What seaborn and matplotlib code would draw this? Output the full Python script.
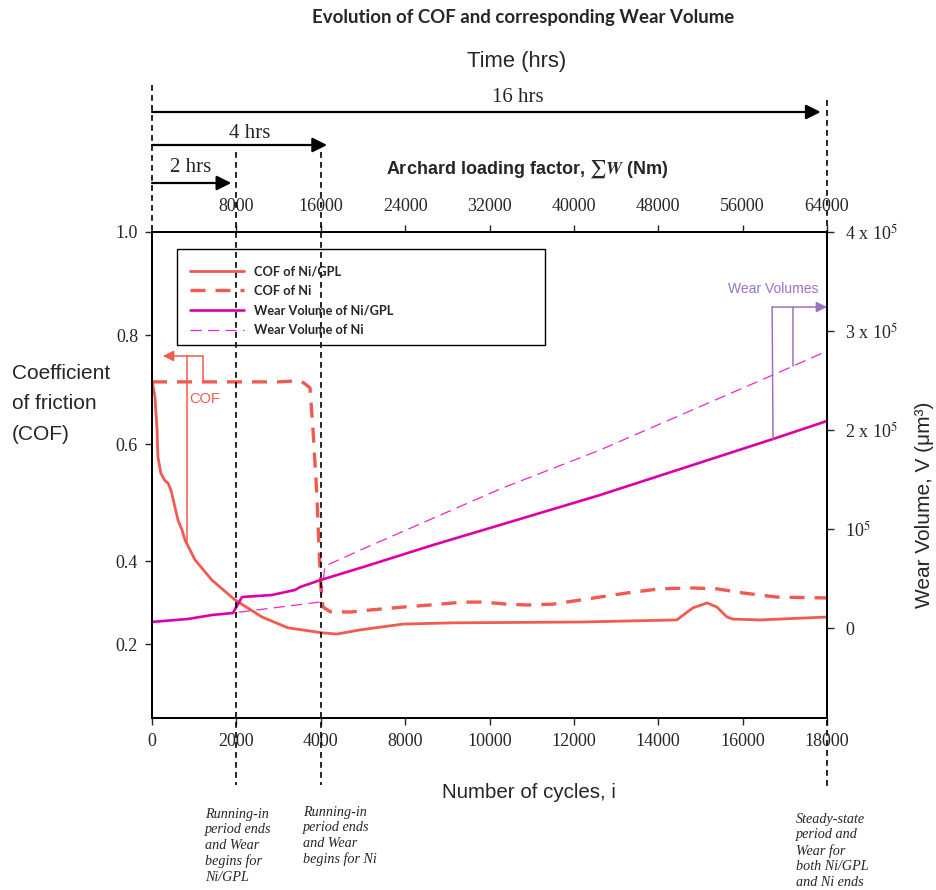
import numpy as np
import pandas as pd
import matplotlib
matplotlib.use("Agg")
import matplotlib.pyplot as plt
import matplotlib.transforms as mtransforms
from matplotlib.lines import Line2D
from matplotlib.patches import Rectangle
import seaborn as sns

# ---------------- data ----------------
cycles_ticks = [0, 2000, 4000, 8000, 10000, 12000, 14000, 16000, 18000]
cycles_tick_labels = ["0", "2000", "4000", "8000", "10000", "12000", "14000", "16000", "18000"]
archard_ticks = [8000, 16000, 24000, 32000, 40000, 48000, 56000, 64000]
archard_tick_labels = ["8000", "16000", "24000", "32000", "40000", "48000", "56000", "64000"]
cof_ticks = [0.2, 0.4, 0.6, 0.8, 1.0]
cof_tick_labels = ["0.2", "0.4", "0.6", "0.8", "1.0"]
wear_ticks = [0, 1e5, 2e5, 3e5, 4e5]
wear_tick_labels = ["0", r"10$^{5}$", r"2 x 10$^{5}$", r"3 x 10$^{5}$", r"4 x 10$^{5}$"]

# COF of Ni/GPL (solid)
cof_gpl_cycles = [0, 70, 120, 140, 210, 300, 380, 450, 616, 711, 782, 1019, 1420, 1970, 2610, 3220,
                  4060, 4770, 5860, 7900, 9140, 12150, 14440, 14820, 15160, 15390, 15630, 15770, 16410, 18000]
cof_gpl = [0.717, 0.686, 0.626, 0.578, 0.550, 0.538, 0.533, 0.521, 0.470, 0.453, 0.436, 0.402, 0.354, 0.306, 0.265, 0.239,
           0.227, 0.224, 0.234, 0.248, 0.251, 0.253, 0.258, 0.287, 0.299, 0.289, 0.265, 0.260, 0.258, 0.265]

# COF of Ni (dashed)
cof_ni_cycles = [0, 3000, 3460, 3600, 3745, 3816, 3911, 3958, 4006, 4107, 4440, 5390, 6340, 7900,
                 8590, 9370, 9850, 10420, 10890, 11500, 12150, 13260, 14040, 14820, 15390, 16010, 16820, 18000]
cof_ni = [0.714, 0.714, 0.716, 0.712, 0.703, 0.626, 0.509, 0.424, 0.337, 0.289, 0.278, 0.277, 0.282, 0.289,
          0.294, 0.301, 0.301, 0.296, 0.294, 0.296, 0.306, 0.323, 0.333, 0.335, 0.333, 0.323, 0.313, 0.311]

# Wear volume of Ni/GPL (solid), um^3
wear_gpl_cycles = [0, 850, 1420, 1920, 2133, 2840, 3390, 3510, 4000, 6150, 8660, 10490, 12620, 16720, 18000]
wear_gpl = [6100, 9100, 13100, 15200, 31300, 33300, 38400, 41400, 48500, 62500, 83800, 107100, 134300, 190900, 209100]

# Wear volume of Ni (thin dashed), um^3
wear_ni_cycles = [0, 850, 1420, 1920, 4000, 4200, 6100, 10250, 12620, 16720, 17950]
wear_ni = [6100, 9100, 13100, 15200, 26300, 62600, 80800, 140400, 179800, 255600, 278800]

time_labels = ["2 hrs", "4 hrs", "16 hrs"]
time_end_cycles = [2000, 4000, 18000]

# ---------------- style ----------------
sns.set_style("ticks")
plt.rcParams["font.family"] = ["Liberation Sans", "DejaVu Sans"]
plt.rcParams["mathtext.fontset"] = "stix"
plt.rcParams["axes.linewidth"] = 1.2

RED = "#F15A4F"
MAG = "#DD00A6"
MAG_THIN = "#F025C4"
PURPLE = "#9B72C4"

W, H = 936, 890
fig = plt.figure(figsize=(W / 100, H / 100), dpi=100)
ax = fig.add_axes([152 / W, 1 - 718 / H, 675 / W, 486 / H])

# piecewise axis scales reproducing the reference's uneven tick spacing
x_pos = np.arange(len(cycles_ticks), dtype=float)
ax.set_xscale("function", functions=(lambda v: np.interp(v, cycles_ticks, x_pos),
                                     lambda p: np.interp(p, x_pos, cycles_ticks)))
cof_knots = [0.0, 0.2, 0.4, 0.6, 0.8, 1.0]
cof_pos = [0.0, 83.0, 166.0, 283.0, 392.0, 495.0]
ax.set_yscale("function", functions=(lambda v: np.interp(v, cof_knots, cof_pos),
                                     lambda p: np.interp(p, cof_pos, cof_knots)))
ax.set_xlim(0, 18000)
ax.set_ylim(0.0217, 1.0)

ax2 = ax.twinx()
ax2.set_ylim(-90909, 400000)

# ---------------- curves ----------------
sns.lineplot(x=cof_gpl_cycles, y=cof_gpl, ax=ax, color=RED, lw=2.0,
             sort=False, estimator=None, label="COF of Ni/GPL")
sns.lineplot(x=cof_ni_cycles, y=cof_ni, ax=ax, color=RED, lw=2.4,
             sort=False, estimator=None, label="COF of Ni")
ax.lines[-1].set_dashes([4.5, 3])
sns.lineplot(x=wear_ni_cycles, y=wear_ni, ax=ax2, color=MAG_THIN, lw=0.9,
             sort=False, estimator=None, label="Wear Volume of Ni")
ax2.lines[-1].set_dashes([9, 5])
sns.lineplot(x=wear_gpl_cycles, y=wear_gpl, ax=ax2, color=MAG, lw=1.9,
             sort=False, estimator=None, label="Wear Volume of Ni/GPL")

h1, l1 = ax.get_legend_handles_labels()
h2, l2 = ax2.get_legend_handles_labels()
for a in (ax, ax2):
    if a.get_legend() is not None:
        a.get_legend().remove()
hd = dict(zip(l1 + l2, h1 + h2))
order = ["COF of Ni/GPL", "COF of Ni", "Wear Volume of Ni/GPL", "Wear Volume of Ni"]
leg = fig.legend([hd[k] for k in order], order, loc="upper left",
                 bbox_to_anchor=(190 / W, 1 - 265 / H), bbox_transform=fig.transFigure,
                 frameon=False, borderpad=0, borderaxespad=0, handlelength=4.2,
                 handletextpad=0.8, labelspacing=0.6,
                 prop=dict(family="Lato", weight="bold", size=9.2))
fig.add_artist(Rectangle((177 / W, 1 - 345 / H), (545 - 177) / W, (345 - 249) / H,
                         transform=fig.transFigure, fill=False, ec="black", lw=1.0))

# ---------------- axes / ticks ----------------
ax.set_xticks(cycles_ticks)
ax.set_xticklabels(cycles_tick_labels)
ax.xaxis.set_minor_locator(matplotlib.ticker.NullLocator())
ax.set_yticks(cof_ticks)
ax.set_yticklabels(cof_tick_labels)
ax.yaxis.set_minor_locator(matplotlib.ticker.NullLocator())
ax.tick_params(axis="x", direction="out", length=5, width=1, labelsize=13,
               labelfontfamily="Liberation Serif", pad=6)
ax.tick_params(axis="y", direction="out", length=5, width=1, labelsize=13,
               labelfontfamily="Liberation Serif", pad=5)
ax2.set_yticks(wear_ticks)
ax2.set_yticklabels(wear_tick_labels)
ax2.tick_params(axis="y", direction="out", length=5, width=1, labelsize=13,
                labelfontfamily="Liberation Serif", pad=8)

ax3 = ax.twiny()
ax3.set_xlim(0, 64000)
ax3.set_xticks(archard_ticks)
ax3.set_xticklabels(archard_tick_labels)
ax3.tick_params(axis="x", direction="out", length=5, width=1, labelsize=13,
                labelfontfamily="Liberation Serif", pad=7)
for a in (ax, ax2, ax3):
    for s in a.spines.values():
        s.set_color("black")
        s.set_linewidth(1.2)
    a.set_xlabel("")
    a.set_ylabel("")

# ---------------- reference lines and time arrows ----------------
trans = mtransforms.blended_transform_factory(ax.transData, fig.transFigure)
vlines = [(0, 85, 718), (2000, 152, 785), (4000, 152, 785), (18000, 100, 790)]
for xv, ytop, ybot in vlines:
    fig.add_artist(Line2D([xv, xv], [1 - ytop / H, 1 - ybot / H], transform=trans,
                          color="black", lw=1.2, linestyle=(0, (3.5, 2.5))))

arrow_y = [183, 145, 112]
arrow_tip = [1880, 4300, 17850]
text_xy = [(924, 168), (2323, 134), (10680, 97)]
for lab, yy, tip, (tx, ty) in zip(time_labels, arrow_y, arrow_tip, text_xy):
    ax.annotate("", xy=(tip, 1 - yy / H), xytext=(0, 1 - yy / H), xycoords=trans,
                textcoords=trans, annotation_clip=False,
                arrowprops=dict(arrowstyle="-|>", color="black", lw=1.6,
                                mutation_scale=22, shrinkA=0, shrinkB=0))
    ax.text(tx, 1 - ty / H, lab, transform=trans, ha="center", va="center",
            family="Liberation Serif", fontsize=15)

# ---------------- annotations ----------------
ax.annotate("", xy=(260, 0.7615), xytext=(1209, 0.7615), annotation_clip=False,
            arrowprops=dict(arrowstyle="-|>", color=RED, lw=1.1, mutation_scale=16,
                            shrinkA=0, shrinkB=0))
ax.plot([1209, 1209], [0.7615, 0.714], color=RED, lw=1.1)
ax.plot([830, 830], [0.7615, 0.431], color=RED, lw=1.1)
ax.text(1256, 0.683, "COF", color=RED, fontsize=10.5, ha="center", va="center")

ax2.annotate("", xy=(18000, 324200), xytext=(16700, 324200), annotation_clip=False,
             arrowprops=dict(arrowstyle="-|>", color=PURPLE, lw=1.1, mutation_scale=16,
                             shrinkA=0, shrinkB=0))
ax2.plot([16700, 16720], [324200, 190900], color=PURPLE, lw=1.1)
ax2.plot([17190, 17190], [324200, 264700], color=PURPLE, lw=1.1)
ax2.text(16720, 342400, "Wear Volumes", color=PURPLE, fontsize=10, ha="center", va="center")

# ---------------- texts ----------------
fig.text(523 / W, 1 - 18 / H, "Evolution of COF and corresponding Wear Volume",
         ha="center", va="center", fontsize=13.4, fontweight="bold", family="Lato")
fig.text(517 / W, 1 - 61 / H, "Time (hrs)", ha="center", va="center", fontsize=15.8)
fig.text(527 / W, 1 - 169 / H, r"Archard loading factor, $\sum\mathbfit{W}$ (Nm)",
         ha="center", va="center", fontsize=13, fontweight="bold")
fig.text(529 / W, 1 - 793 / H, "Number of cycles, i", ha="center", va="center", fontsize=14.8)
fig.text(12 / W, 1 - 404 / H, "Coefficient\nof friction\n(COF)", ha="left", va="center",
         fontsize=15, linespacing=1.75)
fig.text(925 / W, 1 - 505 / H, "Wear Volume, V (μm³)", ha="center", va="center",
         fontsize=15, rotation=90)

notes = [(205, 808, "Running-in\nperiod ends\nand Wear\nbegins for\nNi/GPL"),
         (303, 806, "Running-in\nperiod ends\nand Wear\nbegins for Ni"),
         (796, 813, "Steady-state\nperiod and\nWear for\nboth Ni/GPL\nand Ni ends")]
for nx, ny, txt in notes:
    fig.text(nx / W, 1 - ny / H, txt, ha="left", va="top", family="Liberation Serif",
             style="italic", fontsize=10.2, linespacing=1.24)

fig.savefig("out.png", dpi=100)
